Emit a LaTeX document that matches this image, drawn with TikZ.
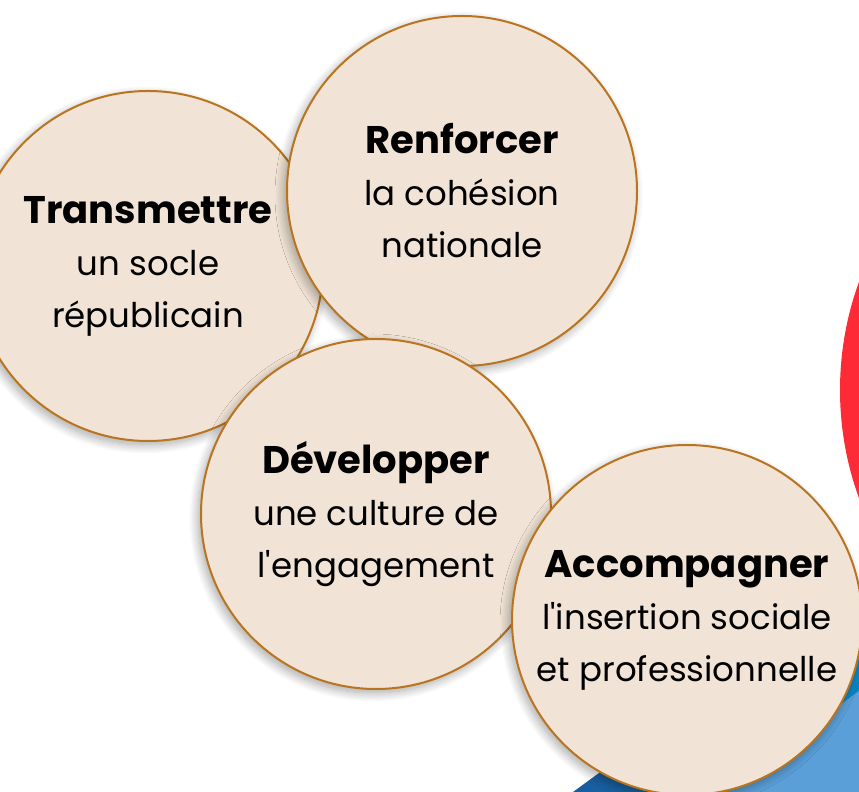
\documentclass[tikz,border=0pt]{standalone}
\usepackage{xcolor}
\usepackage{fontspec}
\setmainfont{Poppins}[Ligatures=TeXOff]
\usetikzlibrary{shadows.blur}

\definecolor{beige}{HTML}{F1E4D6}
\definecolor{bord}{HTML}{B9741F}
\definecolor{rouge}{HTML}{FE2A35}
\definecolor{bleufonce}{HTML}{1A5C9E}
\definecolor{bleumoyen}{HTML}{0A86C6}
\definecolor{bleuclair}{HTML}{5A9FD8}

\tikzset{
  bulle/.style={circle, draw=bord, line width=2pt, fill=beige, minimum size=350pt,
    inner sep=0pt, align=center, text=black,
    font=\fontsize{34}{52}\selectfont,
    blur shadow={shadow xshift=-3pt, shadow yshift=-4pt, shadow blur radius=9pt, shadow blur steps=12, shadow opacity=35}},
}
\newcommand{\titre}[1]{{\fontsize{38.5}{52}\selectfont\bfseries #1}}

\begin{document}
\begin{tikzpicture}[x=1pt,y=1pt]

\useasboundingbox (0,0) rectangle (859,792);
\clip (0,0) rectangle (859,792);

% fond rouge
\fill[rouge] (1156,402) circle (316);

% bandes bleues
\shade[left color=bleufonce, right color=bleumoyen] (573,0) -- (859,209) -- (859,0) -- cycle;
\fill[bleuclair] (721,0) -- (859,101) -- (859,0) -- cycle;

% Cercle 1
\node[bulle] (transmettre) at (148,526)
  {\titre{Transmettre}\\un socle\\républicain};

% Cercle 2
\node[bulle] (renforcer) at (462,601)
  {\titre{Renforcer}\\la cohésion\\nationale};

% Cercle 3
\node[bulle] (developper) at (376,278)
  {\titre{Développer}\\une culture de\\l'engagement};

% Cercle 4
\node[bulle] (accompagner) at (687,172)
  {\titre{Accompagner}\\l'insertion sociale\\et professionnelle};

\end{tikzpicture}
\end{document}
